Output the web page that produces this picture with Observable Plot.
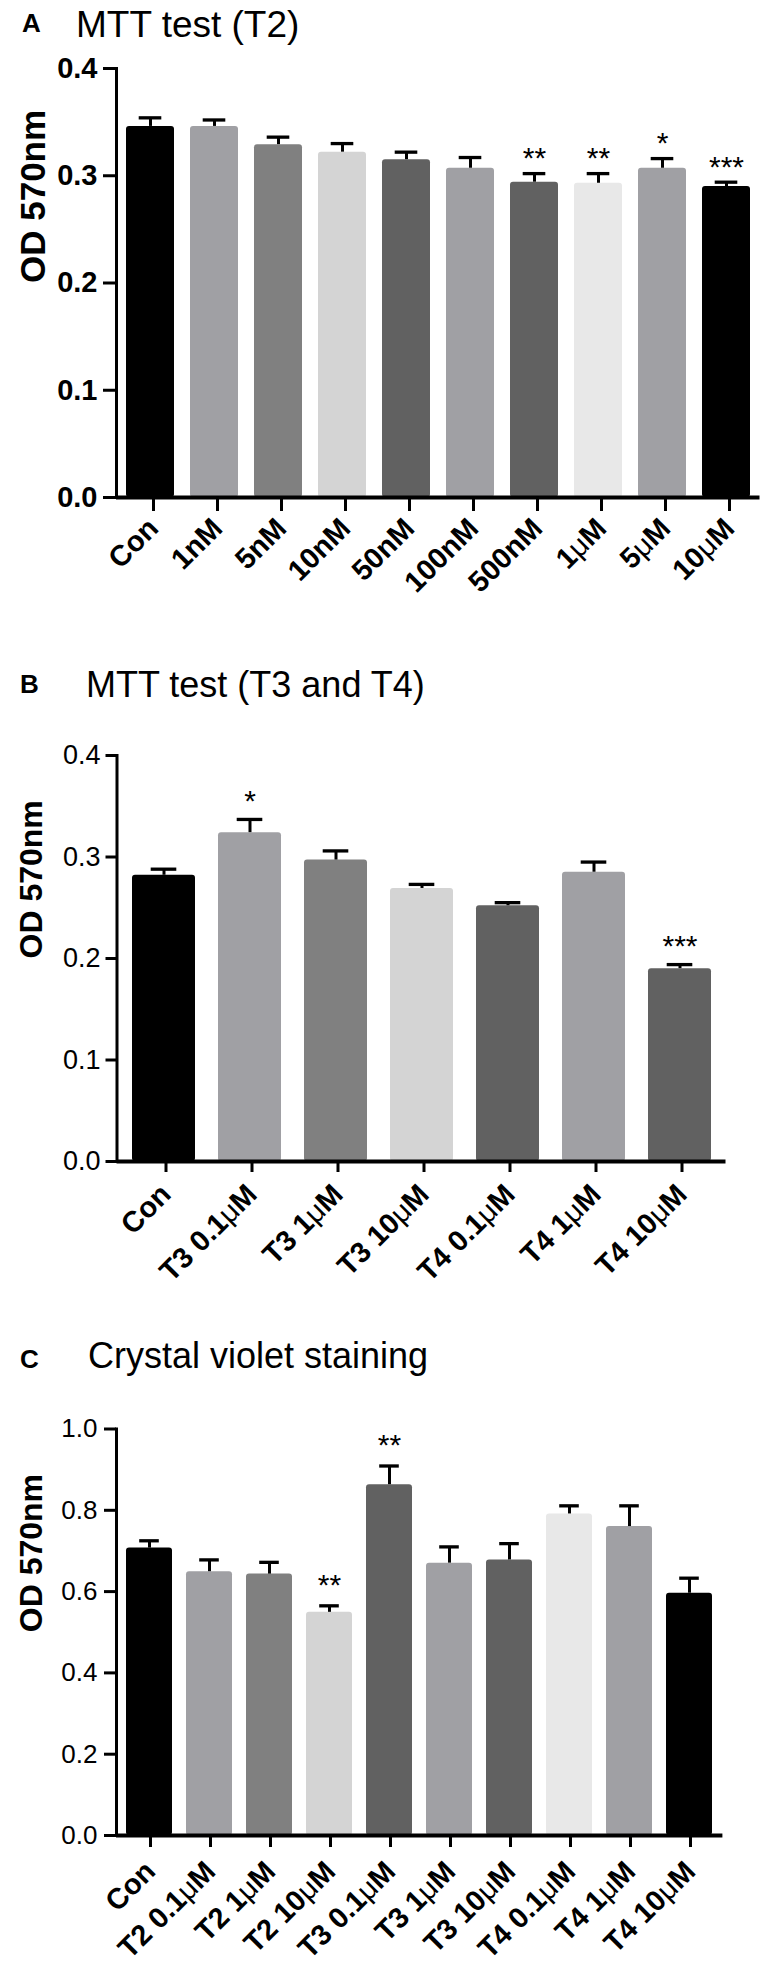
<!DOCTYPE html>
<html>
<head>
<meta charset="utf-8">
<script src="https://cdn.jsdelivr.net/npm/d3@7"></script>
<script src="https://cdn.jsdelivr.net/npm/@observablehq/plot@0.6"></script>
<style>
  html, body { margin: 0; padding: 0; background: #fff; }
  #wrap { position: relative; width: 770px; height: 1965px; overflow: hidden; font-family: "Liberation Sans", Arial, sans-serif; color: #000; }
  .abs { position: absolute; line-height: 1; white-space: nowrap; }
  .letter { font-weight: bold; font-size: 26px; }
  .title { font-size: 36px; }
</style>
</head>
<body>
<div id="wrap">
  <div class="abs letter" style="left:22px;top:10px">A</div>
  <div class="abs title" style="left:76px;top:5.7px;font-size:37px">MTT test (T2)</div>
  <div class="abs letter" style="left:20px;top:671px">B</div>
  <div class="abs title" style="left:86px;top:666.5px">MTT test (T3 and T4)</div>
  <div class="abs letter" style="left:20px;top:1346px">C</div>
  <div class="abs title" style="left:88px;top:1337.5px">Crystal violet staining</div>
  <div id="pA" class="abs" style="left:0;top:50px"></div>
  <div id="pB" class="abs" style="left:0;top:720px"></div>
  <div id="pC" class="abs" style="left:0;top:1390px"></div>
</div>
<script>
// ---- Panel A: MTT test (T2)
const catsA = ["Con", "1nM", "5nM", "10nM", "50nM", "100nM", "500nM", "1μM", "5μM", "10μM"];
const meansA = [0.346, 0.346, 0.329, 0.322, 0.315, 0.307, 0.294, 0.293, 0.307, 0.290];
const errsA = [0.008, 0.006, 0.007, 0.008, 0.007, 0.010, 0.008, 0.009, 0.009, 0.004];
const sigA = ["", "", "", "", "", "", "**", "**", "*", "***"];
const ticksA = [0, 0.1, 0.2, 0.3, 0.4];

// ---- Panel B: MTT test (T3 and T4)
const catsB = ["Con", "T3 0.1μM", "T3 1μM", "T3 10μM", "T4 0.1μM", "T4 1μM", "T4 10μM"];
const meansB = [0.282, 0.324, 0.297, 0.269, 0.252, 0.285, 0.190];
const errsB = [0.006, 0.013, 0.009, 0.004, 0.003, 0.010, 0.004];
const sigB = ["", "*", "", "", "", "", "***"];
const ticksB = [0, 0.1, 0.2, 0.3, 0.4];

// ---- Panel C: Crystal violet staining
const catsC = ["Con", "T2 0.1μM", "T2 1μM", "T2 10μM", "T3 0.1μM", "T3 1μM", "T3 10μM", "T4 0.1μM", "T4 1μM", "T4 10μM"];
const meansC = [0.707, 0.649, 0.643, 0.549, 0.863, 0.670, 0.678, 0.791, 0.760, 0.596];
const errsC = [0.018, 0.029, 0.029, 0.016, 0.046, 0.040, 0.040, 0.020, 0.051, 0.037];
const sigC = ["", "", "", "**", "**", "", "", "", "", ""];
const ticksC = [0, 0.2, 0.4, 0.6, 0.8, 1.0];

const yLabel = "OD 570nm";

// ---- styles (bar fills per category)
const fillsA = ["#000000", "#a0a0a4", "#808080", "#d4d4d4", "#616161", "#a0a0a4", "#616161", "#e8e8e8", "#a0a0a4", "#000000"];
const fillsB = ["#000000", "#a0a0a4", "#808080", "#d4d4d4", "#616161", "#a0a0a4", "#616161"];
const fillsC = ["#000000", "#a0a0a4", "#808080", "#d4d4d4", "#616161", "#a0a0a4", "#616161", "#e8e8e8", "#a0a0a4", "#000000"];

const FONT = "'Liberation Sans', Arial, Helvetica, sans-serif";

function panel(o) {
  const data = o.cats.map((c, i) => ({cat: c, mean: o.means[i], err: o.errs[i], sig: o.sig[i]}));
  const top = d => d.mean + d.err;
  const svg = Plot.plot({
    width: 770,
    height: o.height,
    marginTop: o.mt,
    marginBottom: o.mb,
    marginLeft: o.ml,
    marginRight: o.mr,
    style: {fontFamily: FONT, background: "transparent", overflow: "visible", color: "#000"},
    x: {domain: o.cats, paddingInner: o.pi, paddingOuter: o.po, label: null},
    y: {domain: [0, o.ticks[o.ticks.length - 1]], label: null},
    color: {domain: o.cats, range: o.fills},
    marks: [
      Plot.barY(data, {x: "cat", y: "mean", fill: "cat", rx: 3}),
      Plot.ruleX(data, {x: "cat", y1: "mean", y2: top, stroke: "#000", strokeWidth: 3}),
      Plot.tickY(data, {x: "cat", y: top, stroke: "#000", strokeWidth: 3.3, insetLeft: o.capInset, insetRight: o.capInset}),
      Plot.text(data.filter(d => d.sig), {x: "cat", y: top, text: "sig", lineAnchor: "bottom", dy: o.starDy, fontSize: 30, fill: "#000"}),
      Plot.frame({anchor: "left", stroke: "#000", strokeWidth: 3}),
      Plot.ruleY([0], {stroke: "#000", strokeWidth: 4}),
      Plot.axisY({ticks: o.ticks, tickSize: o.yTickSize, tickPadding: o.yTickPad, tickFormat: d3.format(".1f"),
        fontSize: o.yFont, fontWeight: o.yWeight, strokeWidth: 3, stroke: "#000", fill: "#000", label: null}),
      Plot.axisX({tickSize: o.xTickSize, tickPadding: o.xTickPad, tickRotate: -45, dx: o.xDx,
        fontSize: 29, fontWeight: "bold", strokeWidth: 3, stroke: "#000", fill: "#000", label: null}),
      Plot.text([yLabel], {frameAnchor: "left", dx: o.titleDx, rotate: -90, fontSize: o.titleFont, fontWeight: "bold", fill: "#000"})
    ]
  });
  // render the micro sign in a light weight, as in the original figure
  svg.querySelectorAll("text").forEach(t => {
    if (t.children.length === 0 && t.textContent.includes("μ")) {
      const parts = t.textContent.split("μ");
      t.textContent = "";
      parts.forEach((p, i) => {
        if (i > 0) {
          const mu = document.createElementNS("http://www.w3.org/2000/svg", "tspan");
          mu.setAttribute("font-weight", "normal");
          mu.textContent = "μ";
          t.appendChild(mu);
        }
        if (p) t.appendChild(document.createTextNode(p));
      });
    }
  });
  return svg;
}

document.getElementById("pA").append(panel({
  cats: catsA, means: meansA, errs: errsA, sig: sigA, ticks: ticksA, fills: fillsA,
  height: 565, mt: 18, mb: 118, ml: 116, mr: 10.5, pi: 0.247, po: 0.116,
  capInset: 12.7, starDy: -5.5, yTickSize: 13, yTickPad: 6, yFont: 29, yWeight: "bold",
  xTickSize: 14, xTickPad: 12, xDx: 3, titleDx: -83, titleFont: 35
}));

document.getElementById("pB").append(panel({
  cats: catsB, means: meansB, errs: errsB, sig: sigB, ticks: ticksB, fills: fillsB,
  height: 565, mt: 35, mb: 124, ml: 116.5, mr: 44.5, pi: 0.268, po: 0.144,
  capInset: 18.7, starDy: -8.5, yTickSize: 11, yTickPad: 5.5, yFont: 27, yWeight: "normal",
  xTickSize: 11, xTickPad: 17, xDx: 2, titleDx: -85.5, titleFont: 32
}));

document.getElementById("pC").append(panel({
  cats: catsC, means: meansC, errs: errsC, sig: sigC, ticks: ticksC, fills: fillsC,
  height: 574, mt: 38.5, mb: 129, ml: 116, mr: 47.6, pi: 0.237, po: 0.0935,
  capInset: 13.2, starDy: -10.5, yTickSize: 12, yTickPad: 7, yFont: 26, yWeight: "normal",
  xTickSize: 12, xTickPad: 19, xDx: 1, titleDx: -85, titleFont: 32
}));
</script>
</body>
</html>
